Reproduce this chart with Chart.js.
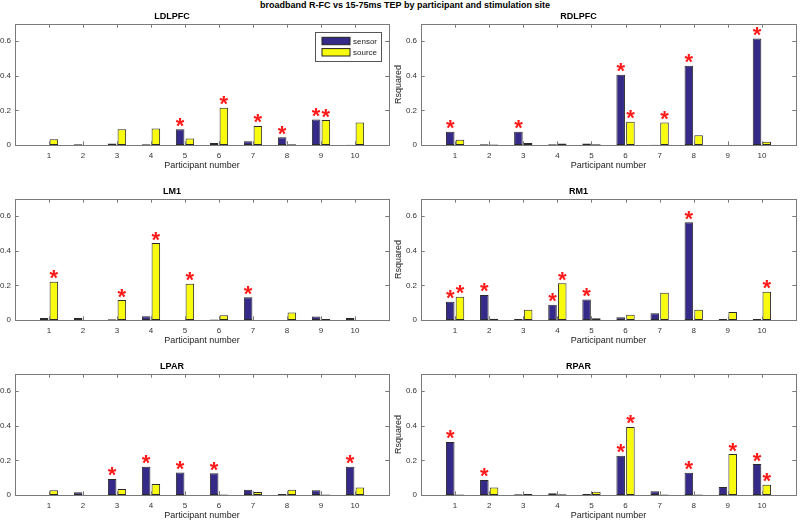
<!DOCTYPE html>
<html lang="en">
<head>
    <meta charset="UTF-8">
    <title>broadband R-FC vs 15-75ms TEP</title>
    <script src="https://cdn.jsdelivr.net/npm/chart.js"></script>
    <style>
        body { margin: 0; width: 800px; height: 522px; overflow: hidden; background: #fff; position: relative; font-family: Arial, "Liberation Sans", sans-serif; }
        #suptitle { position: absolute; left: 0; top: 0; width: 810px; text-align: center; font: bold 9px Arial, "Liberation Sans", sans-serif; line-height: 11px; color: #000; }
        canvas { position: absolute; }
    </style>
</head>
<body>

    <div id="suptitle">broadband R-FC vs 15-75ms TEP by participant and stimulation site</div>

    <canvas id="cLDLPFC" width="440" height="175" style="left:-45px; top:0px"></canvas>
    <canvas id="cRDLPFC" width="440" height="175" style="left:361px; top:0px"></canvas>
    <canvas id="cLM1" width="440" height="175" style="left:-45px; top:175px"></canvas>
    <canvas id="cRM1" width="440" height="175" style="left:361px; top:175px"></canvas>
    <canvas id="cLPAR" width="440" height="175" style="left:-45px; top:350px"></canvas>
    <canvas id="cRPAR" width="440" height="175" style="left:361px; top:350px"></canvas>

    <script>
        // participants on the x axis, R squared ticks on the y axis
        var participants = [1, 2, 3, 4, 5, 6, 7, 8, 9, 10];
        var yTicks = [0, 0.2, 0.4, 0.6];

        // values per stimulation site (sensor / source)
        var sensorLDLPFC = [0, 0.005, 0.008, 0.005, 0.091, 0.012, 0.021, 0.045, 0.148, 0.002];
        var sourceLDLPFC = [0.033, 0, 0.091, 0.095, 0.037, 0.215, 0.110, 0.005, 0.144, 0.130];
        var sensorRDLPFC = [0.076, 0.004, 0.076, 0.004, 0.008, 0.406, 0.002, 0.458, 0, 0.616];
        var sourceRDLPFC = [0.031, 0.003, 0.012, 0.008, 0.004, 0.134, 0.130, 0.056, 0, 0.019];
        var sensorLM1 = [0.012, 0.012, 0.004, 0.021, 0, 0.003, 0.131, 0, 0.020, 0.012];
        var sourceLM1 = [0.221, 0, 0.115, 0.445, 0.209, 0.027, 0, 0.043, 0.006, 0];
        var sensorRM1 = [0.105, 0.145, 0.006, 0.088, 0.119, 0.016, 0.039, 0.565, 0.006, 0.006];
        var sourceRM1 = [0.135, 0.007, 0.060, 0.213, 0.010, 0.031, 0.158, 0.060, 0.047, 0.164];
        var sensorLPAR = [0, 0.016, 0.093, 0.163, 0.130, 0.126, 0.031, 0.006, 0.027, 0.163];
        var sourceLPAR = [0.027, 0, 0.035, 0.064, 0, 0.003, 0.017, 0.031, 0.003, 0.043];
        var sensorRPAR = [0.307, 0.087, 0.004, 0.010, 0.006, 0.227, 0.021, 0.128, 0.047, 0.179];
        var sourceRPAR = [0.003, 0.043, 0.006, 0.004, 0.019, 0.394, 0.003, 0.003, 0.237, 0.060];

        // participants marked significant (red asterisk)
        var starsSensorLDLPFC = [5, 8, 9], starsSourceLDLPFC = [6, 7, 9];
        var starsSensorRDLPFC = [1, 3, 6, 8, 10], starsSourceRDLPFC = [6, 7];
        var starsSensorLM1 = [7], starsSourceLM1 = [1, 3, 4, 5];
        var starsSensorRM1 = [1, 2, 4, 5, 8], starsSourceRM1 = [1, 4, 10];
        var starsSensorLPAR = [3, 4, 5, 6, 10], starsSourceLPAR = [];
        var starsSensorRPAR = [1, 2, 6, 8, 10], starsSourceRPAR = [6, 9, 10];

        var navy = '#352a87';
        var yellow = '#f9fb0e';
        var frameColor = '#7a7a7a';

        Chart.defaults.font.family = 'Arial, "Liberation Sans", sans-serif';
        Chart.defaults.color = '#333';

        // axes box with inward ticks, like matlab
        var framePlugin = {
            id: 'frame',
            afterDatasetsDraw: function(chart) {
                var ctx = chart.ctx, a = chart.chartArea, x = chart.scales.x, y = chart.scales.y;
                var t = 3.7;
                ctx.save();
                ctx.strokeStyle = frameColor;
                ctx.lineWidth = 1;
                ctx.strokeRect(Math.round(a.left) + 0.5, Math.round(a.top) + 0.5, Math.round(a.width), Math.round(a.height));
                ctx.beginPath();
                participants.forEach(function(p) {
                    var px = Math.round(x.getPixelForValue(p)) + 0.5;
                    ctx.moveTo(px, a.bottom); ctx.lineTo(px, a.bottom - t);
                    ctx.moveTo(px, a.top); ctx.lineTo(px, a.top + t);
                });
                yTicks.forEach(function(v) {
                    var py = Math.round(y.getPixelForValue(v)) + 0.5;
                    ctx.moveTo(a.left, py); ctx.lineTo(a.left + t, py);
                    ctx.moveTo(a.right, py); ctx.lineTo(a.right - t, py);
                });
                ctx.stroke();
                ctx.restore();
            }
        };

        function makeStars(starsSensor, starsSource) {
            return {
                id: 'stars',
                afterDatasetsDraw: function(chart) {
                    var ctx = chart.ctx;
                    ctx.save();
                    ctx.fillStyle = '#ff1a1a';
                    ctx.font = 'bold 22px Arial, "Liberation Sans", sans-serif';
                    ctx.textAlign = 'center';
                    ctx.textBaseline = 'alphabetic';
                    var m = ctx.measureText('*');
                    var lift = (m.actualBoundingBoxAscent - m.actualBoundingBoxDescent) / 2;
                    [starsSensor, starsSource].forEach(function(list, d) {
                        var meta = chart.getDatasetMeta(d);
                        list.forEach(function(p) {
                            var el = meta.data[p - 1];
                            ctx.fillText('*', el.x, el.y - 7 + lift);
                        });
                    });
                    ctx.restore();
                }
            };
        }

        var legendPlugin = {
            id: 'boxLegend',
            afterDraw: function(chart) {
                var ctx = chart.ctx, a = chart.chartArea;
                var w = 66, h = 29;
                var left = a.right - 8 - w, top = a.top + 8;
                ctx.save();
                ctx.fillStyle = '#fff';
                ctx.fillRect(left, top, w, h);
                ctx.strokeStyle = '#555';
                ctx.lineWidth = 1;
                ctx.strokeRect(Math.round(left) + 0.5, Math.round(top) + 0.5, w, h);
                ctx.font = '8px Arial, "Liberation Sans", sans-serif';
                ctx.textBaseline = 'middle';
                chart.data.datasets.forEach(function(ds, i) {
                    var cy = top + 9 + i * 11.3;
                    ctx.fillStyle = ds.backgroundColor;
                    ctx.fillRect(left + 7, cy - 3.7, 28, 7.4);
                    ctx.strokeStyle = '#222';
                    ctx.strokeRect(left + 7, cy - 3.7, 28, 7.4);
                    ctx.fillStyle = '#222';
                    ctx.fillText(ds.label, left + 38, cy + 0.5);
                });
                ctx.restore();
            }
        };

        function makeChart(id, site, sensor, source, starsSensor, starsSource, rightCol, withLegend) {
            var plugins = [framePlugin, makeStars(starsSensor, starsSource)];
            if (withLegend) plugins.push(legendPlugin);
            return new Chart(document.getElementById(id), {
                type: 'bar',
                data: {
                    datasets: [{
                        label: 'sensor',
                        data: participants.map(function(p, i) { return {x: p, y: sensor[i]}; }),
                        backgroundColor: navy,
                        borderColor: '#2a2a2a',
                        borderWidth: 1,
                        borderSkipped: false
                    }, {
                        label: 'source',
                        data: participants.map(function(p, i) { return {x: p, y: source[i]}; }),
                        backgroundColor: yellow,
                        borderColor: '#2a2a2a',
                        borderWidth: 1,
                        borderSkipped: false
                    }]
                },
                options: {
                    responsive: false,
                    animation: false,
                    events: [],
                    categoryPercentage: 0.571,
                    barPercentage: 0.88,
                    layout: { padding: { left: 0, right: rightCol ? 5 : 6, top: 0, bottom: 0 } },
                    plugins: {
                        legend: { display: false },
                        tooltip: { enabled: false },
                        title: {
                            display: true,
                            text: site,
                            color: '#000',
                            font: { size: 9, weight: 'bold' },
                            padding: { top: 11.6, bottom: 1.6 }
                        }
                    },
                    scales: {
                        x: {
                            type: 'linear',
                            offset: false,
                            min: 0,
                            max: 11,
                            grid: { display: false, drawTicks: false },
                            border: { display: false },
                            afterBuildTicks: function(s) { s.ticks = participants.map(function(v) { return {value: v}; }); },
                            afterFit: function(s) { s.height = 30; },
                            ticks: { padding: 6, color: '#333', font: { size: 8 }, maxRotation: 0, autoSkip: false,
                                     callback: function(v) { return String(v); } },
                            title: { display: true, text: 'Participant number', color: '#222', font: { size: 9 },
                                     padding: { top: 0, bottom: 4 } }
                        },
                        y: {
                            min: 0,
                            max: 0.7,
                            grid: { display: false, drawTicks: false },
                            border: { display: false },
                            afterBuildTicks: function(s) { s.ticks = yTicks.map(function(v) { return {value: v}; }); },
                            afterFit: function(s) { s.width = 60; },
                            ticks: { padding: 4, color: '#333', font: { size: 8 },
                                     callback: function(v) { return v === 0 ? '0' : v.toFixed(1); } },
                            title: { display: rightCol, text: 'Rsquared', color: '#222', font: { size: 9 },
                                     padding: { top: 32.6, bottom: 0 } }
                        }
                    }
                },
                plugins: plugins
            });
        }

        makeChart('cLDLPFC', 'LDLPFC', sensorLDLPFC, sourceLDLPFC, starsSensorLDLPFC, starsSourceLDLPFC, false, true);
        makeChart('cRDLPFC', 'RDLPFC', sensorRDLPFC, sourceRDLPFC, starsSensorRDLPFC, starsSourceRDLPFC, true, false);
        makeChart('cLM1', 'LM1', sensorLM1, sourceLM1, starsSensorLM1, starsSourceLM1, false, false);
        makeChart('cRM1', 'RM1', sensorRM1, sourceRM1, starsSensorRM1, starsSourceRM1, true, false);
        makeChart('cLPAR', 'LPAR', sensorLPAR, sourceLPAR, starsSensorLPAR, starsSourceLPAR, false, false);
        makeChart('cRPAR', 'RPAR', sensorRPAR, sourceRPAR, starsSensorRPAR, starsSourceRPAR, true, false);
    </script>

</body>
</html>
